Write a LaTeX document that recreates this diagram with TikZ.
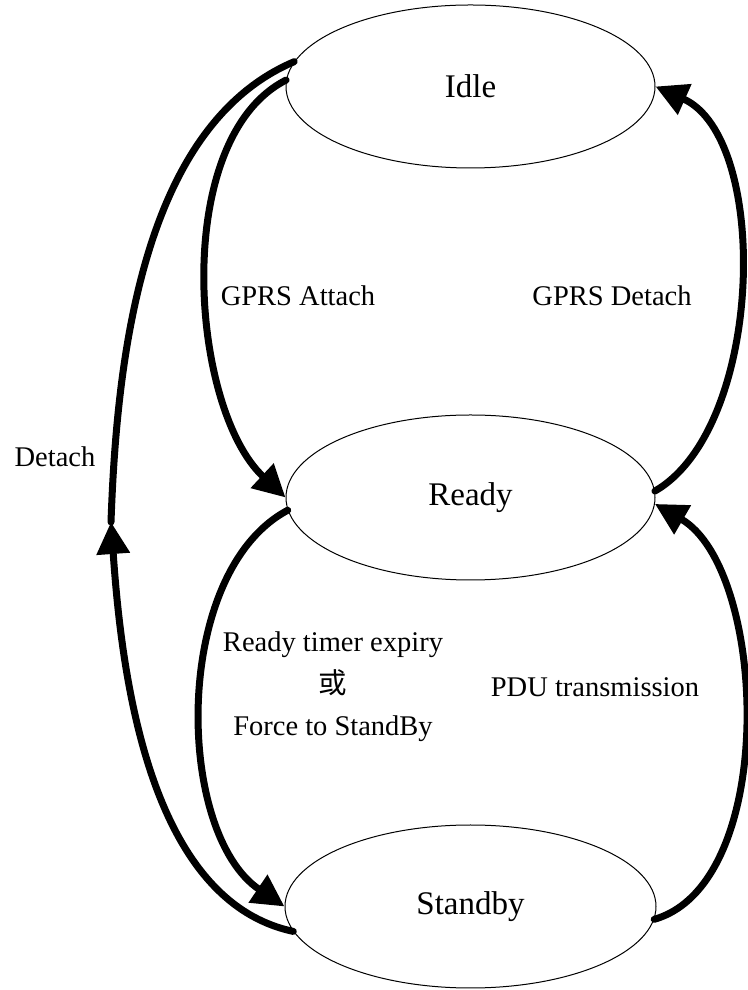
\documentclass[tikz,border=0pt]{standalone}
\usepackage{fontspec}
\setmainfont{Liberation Serif}
\newfontfamily\cjk{Noto Sans CJK TC}
\usetikzlibrary{shapes.geometric,arrows.meta}

\tikzstyle{state}=[draw, ellipse, line width=1pt, inner sep=0pt, font=\fontsize{33}{40}\selectfont]
\tikzstyle{trans}=[line width=7pt, line cap=round, -{Triangle[length=32pt, width=32pt]}]
\tikzstyle{seg}=[line width=7pt, line cap=round]
\tikzstyle{lbl}=[inner sep=0pt, align=center, font=\fontsize{28.5}{42}\selectfont]

\begin{document}
\begin{tikzpicture}[x=1pt, y=1pt]
      \useasboundingbox (0,0) rectangle (747,990);

      \node[state, minimum width=369pt, minimum height=163pt] (idle) at (470.5, 903.5) {Idle};
      \node[state, minimum width=369pt, minimum height=165pt] (ready) at (470.5, 492.5) {Ready};
      \node[state, minimum width=371pt, minimum height=163pt] (standby) at (470.5, 83.5) {Standby};
      \coordinate (dmid) at (111, 468);

      \draw[seg] (idle.172) to[out=203, in=88, looseness=0.85] (dmid);
      \draw[trans] (standby.188) to[out=168, in=274, looseness=0.85] (dmid);
      \draw[trans] (idle.178) to[out=207, in=137, looseness=0.8] (ready.west);
      \draw[trans] (ready.184) to[out=208, in=146, looseness=0.85] (standby.west);
      \draw[trans] (ready.2) to[out=30, in=336, looseness=0.8] (idle.east);
      \draw[trans] (standby.356) to[out=16, in=330, looseness=0.8] (ready.358);

      \node[lbl] (detach) at (55, 533) {Detach};
      \node[lbl] (attach) at (298, 694) {GPRS Attach};
      \node[lbl] (gdetach) at (612, 694) {GPRS Detach};
      \node[lbl] (expiry) at (333, 303) {Ready timer expiry\\{\cjk 或}\\Force to StandBy};
      \node[lbl] (pdu) at (595, 303) {PDU transmission};
    \end{tikzpicture}
\end{document}
